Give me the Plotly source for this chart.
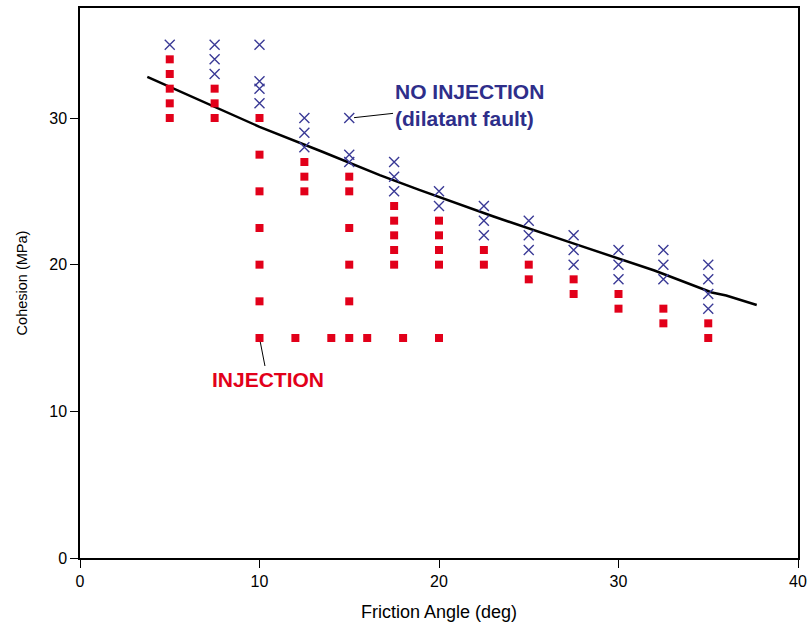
import plotly.graph_objects as go

# No-injection (dilatant fault) points: blue crosses
noinj_x = [5,
           7.5, 7.5, 7.5,
           10, 10, 10, 10,
           12.5, 12.5, 12.5,
           15, 15, 15,
           17.5, 17.5, 17.5,
           20, 20,
           22.5, 22.5, 22.5,
           25, 25, 25,
           27.5, 27.5, 27.5,
           30, 30, 30,
           32.5, 32.5, 32.5,
           35, 35, 35, 35]
noinj_y = [35,
           35, 34, 33,
           35, 32.5, 32, 31,
           30, 29, 28,
           30, 27.5, 27,
           27, 26, 25,
           25, 24,
           24, 23, 22,
           23, 22, 21,
           22, 21, 20,
           21, 20, 19,
           21, 20, 19,
           20, 19, 18, 17]

# Injection points: red squares
inj_x = [5, 5, 5, 5, 5,
         7.5, 7.5, 7.5,
         10, 10, 10, 10, 10, 10, 10,
         12.5, 12.5, 12.5,
         15, 15, 15, 15, 15, 15,
         17.5, 17.5, 17.5, 17.5, 17.5,
         20, 20, 20, 20, 20,
         12, 14, 16, 18,
         22.5, 22.5,
         25, 25,
         27.5, 27.5,
         30, 30,
         32.5, 32.5,
         35, 35]
inj_y = [34, 33, 32, 31, 30,
         32, 31, 30,
         30, 27.5, 25, 22.5, 20, 17.5, 15,
         27, 26, 25,
         26, 25, 22.5, 20, 17.5, 15,
         24, 23, 22, 21, 20,
         23, 22, 21, 20, 15,
         15, 15, 15, 15,
         21, 20,
         20, 19,
         19, 18,
         18, 17,
         17, 16,
         16, 15]

# Boundary curve
line_x = [3.75, 6.5, 10.0, 13.5, 16.7, 18.9, 23.0, 27.6, 32.0, 35.2, 36.0, 37.7]
line_y = [32.8, 31.3, 29.4, 27.7, 26.1, 25.1, 23.3, 21.4, 19.6, 18.1, 17.9, 17.25]

BLUE = "#3a3a96"
RED = "#e2001a"
TEXTBLUE = "#2e2e8a"
FONT = "Liberation Sans, Arial, sans-serif"

fig = go.Figure()
fig.add_trace(go.Scatter(x=line_x, y=line_y, mode="lines",
                         line=dict(color="black", width=2.5), showlegend=False))
fig.add_trace(go.Scatter(x=noinj_x, y=noinj_y, mode="markers",
                         marker=dict(symbol="x-thin", size=10, color=BLUE,
                                     line=dict(color=BLUE, width=1.4)),
                         showlegend=False))
fig.add_trace(go.Scatter(x=inj_x, y=inj_y, mode="markers",
                         marker=dict(symbol="square", size=8, color=RED),
                         showlegend=False))

fig.add_annotation(x=15.1, y=30, text="<b>NO INJECTION<br>(dilatant fault)</b>",
                   showarrow=True, arrowhead=0, arrowwidth=1, arrowcolor="black",
                   ax=118, ay=-13, align="left", standoff=3,
                   font=dict(family=FONT, size=21, color=TEXTBLUE))
fig.add_annotation(x=10, y=15, text="<b>INJECTION</b>",
                   showarrow=True, arrowhead=0, arrowwidth=1, arrowcolor="black",
                   ax=8, ay=41, standoff=4,
                   font=dict(family=FONT, size=21, color=RED))

fig.update_xaxes(range=[0, 40], tickvals=[0, 10, 20, 30, 40], ticks="outside",
                 ticklen=8, tickwidth=1, tickcolor="black",
                 showline=True, linecolor="black", linewidth=1.5, mirror=True,
                 showgrid=False, zeroline=False, automargin=False,
                 title=dict(text="Friction Angle (deg)", standoff=16,
                            font=dict(size=18, color="black")),
                 tickfont=dict(size=16, color="black"))
fig.update_yaxes(range=[0, 37.5], tickvals=[0, 10, 20, 30], ticks="outside",
                 ticklen=8, tickwidth=1, tickcolor="black",
                 showline=True, linecolor="black", linewidth=1.5, mirror=True,
                 showgrid=False, zeroline=False, automargin=False,
                 title=dict(text="Cohesion (MPa)", standoff=18,
                            font=dict(size=14.5, color="black")),
                 tickfont=dict(size=16, color="black"))

fig.update_layout(width=812, height=624,
                  margin=dict(l=80, r=14, t=8, b=66),
                  plot_bgcolor="white", paper_bgcolor="white",
                  font=dict(family=FONT, color="black"))

fig.write_html("out.html")
